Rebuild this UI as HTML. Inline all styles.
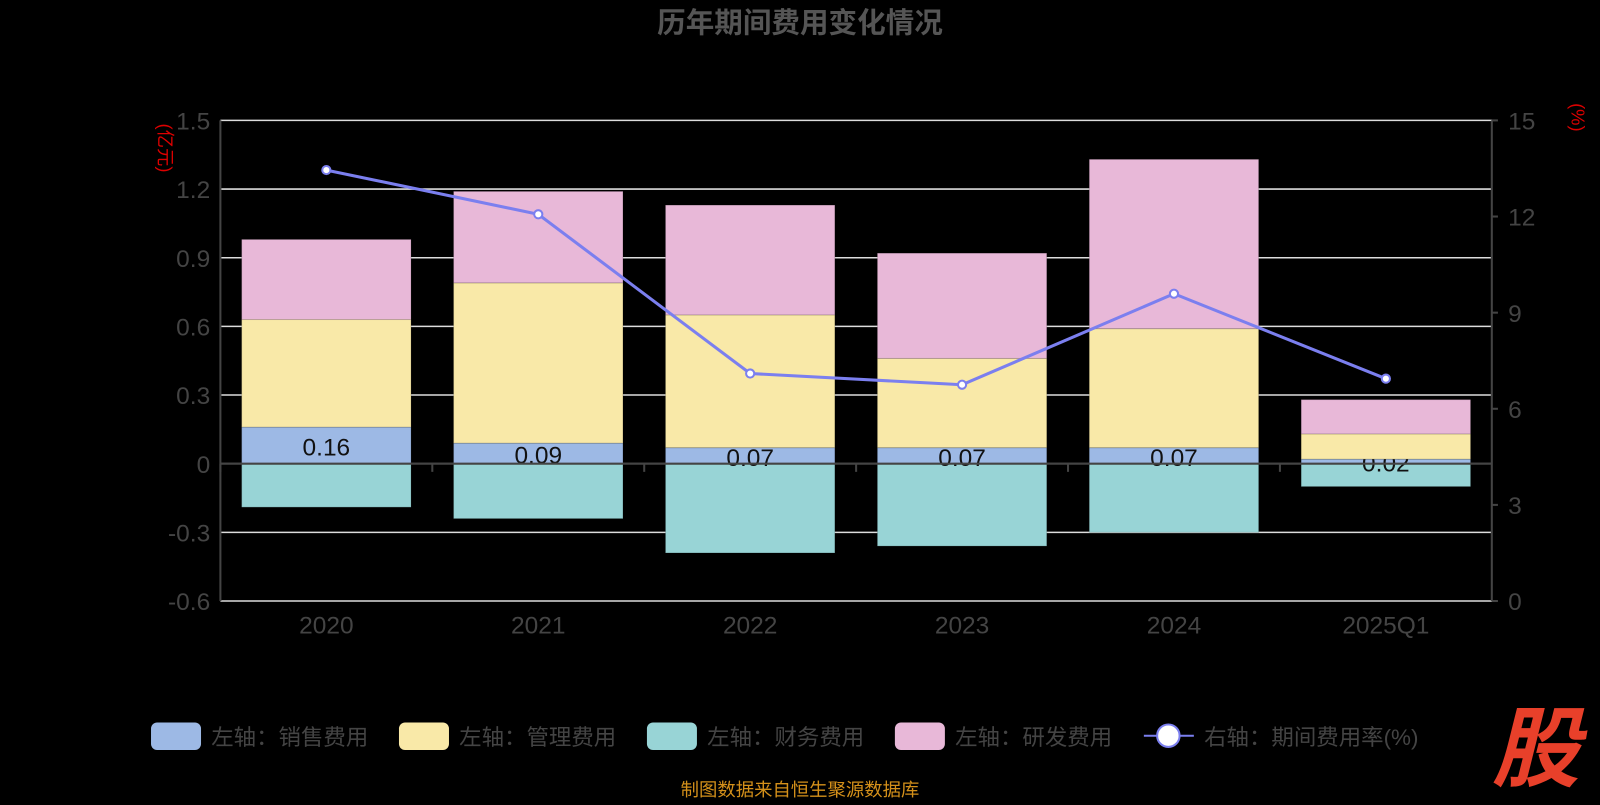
<!DOCTYPE html>
<html><head><meta charset="utf-8"><style>
body{margin:0;background:#000;width:1600px;height:800px;overflow:hidden}
text{font-family:"Liberation Sans","Noto Sans CJK SC",sans-serif}
</style></head><body>
<svg width="1600" height="800">
<g transform="scale(1.0204)">
<text x="784" y="32" text-anchor="middle" font-size="28" font-weight="bold" fill="#555">历年期间费用变化情况</text>
<text transform="translate(156,145) rotate(90)" text-anchor="middle" font-size="18" fill="#d00">(亿元)</text>
<text transform="translate(1540,115) rotate(90)" text-anchor="middle" font-size="18" fill="#d00">(%)</text>
<g id="grid"></g><g id="bars"></g><g id="axes"></g><g id="line"></g>
<g font-size="22" fill="#444">
<rect x="148" y="708" width="49" height="27" rx="6" fill="#9db9e5"/><text x="207" y="730">左轴：销售费用</text>
<rect x="391" y="708" width="49" height="27" rx="6" fill="#f9e9a8"/><text x="450" y="730">左轴：管理费用</text>
<rect x="634" y="708" width="49" height="27" rx="6" fill="#98d4d6"/><text x="693" y="730">左轴：财务费用</text>
<rect x="877" y="708" width="49" height="27" rx="6" fill="#e8b8d8"/><text x="936" y="730">左轴：研发费用</text>
<line x1="1121" y1="721" x2="1170" y2="721" stroke="#7b7fef" stroke-width="2"/><circle cx="1145" cy="721" r="11" fill="#fff" stroke="#7b7fef" stroke-width="2"/><text x="1180" y="730">右轴：期间费用率(%)</text>
</g>
<text x="784" y="780" text-anchor="middle" font-size="18" fill="#d4901a">制图数据来自恒生聚源数据库</text>
<text x="1505" y="764" text-anchor="middle" font-size="86" font-weight="bold" font-style="italic" fill="#e8402a">股</text>
</g>
</svg>
<script>
const categories=["2020","2021","2022","2023","2024","2025Q1"];
const sales=[0.16,0.09,0.07,0.07,0.07,0.02];
const mgmt=[0.47,0.70,0.58,0.39,0.52,0.11];
const rd=[0.35,0.40,0.48,0.46,0.74,0.15];
const finance=[-0.19,-0.24,-0.39,-0.36,-0.30,-0.10];
const rate=[13.45,12.07,7.1,6.75,9.59,6.94];
const leftTicks=[-0.6,-0.3,0,0.3,0.6,0.9,1.2,1.5];
const rightTicks=[0,3,6,9,12,15];
const NS="http://www.w3.org/2000/svg";
const X0=216,X1=1462,YT=118,YB=589;
const yL=v=>YB-(v+0.6)/2.1*(YB-YT);
const yR=v=>YB-v/15*(YB-YT);
const band=(X1-X0)/categories.length;
const xC=i=>X0+band*(i+0.5);
const bw=166;
function mk(p,t,a){const e=document.createElementNS(NS,t);for(const k in a)e.setAttribute(k,a[k]);document.getElementById(p).appendChild(e);return e;}
leftTicks.forEach(v=>{const l=mk("grid","line",{x1:X0,x2:X1,y1:yL(v),y2:yL(v),stroke:"#ddd","stroke-width":1.5});


const t=mk("axes","text",{x:X0-10,y:yL(v)+9,"text-anchor":"end","font-size":24,fill:"#444"});t.textContent=(v===0?"0":String(v));

});
rightTicks.forEach(v=>{const t=mk("axes","text",{x:X1+16,y:yR(v)+9,"font-size":24,fill:"#444"});t.textContent=v;


mk("axes","line",{x1:X1,x2:X1+6,y1:yR(v),y2:yR(v),stroke:"#444","stroke-width":2});});
let a=mk("axes","line",{x1:X0,x2:X0,y1:YT,y2:YB,stroke:"#444","stroke-width":2});


a=mk("axes","line",{x1:X1,x2:X1,y1:YT,y2:YB,stroke:"#444","stroke-width":2});


a=mk("axes","line",{x1:X0,x2:X1,y1:yL(0),y2:yL(0),stroke:"#444","stroke-width":2});


categories.forEach((c,i)=>{mk("axes","line",{x1:X0+band*i,x2:X0+band*i,y1:yL(0),y2:yL(0)+8,stroke:"#444","stroke-width":2});
const t=mk("axes","text",{x:xC(i),y:621,"text-anchor":"middle","font-size":24,fill:"#444"});t.textContent=c;

});
function bar(i,v0,v1,fill,name){const r=mk("bars","rect",{x:xC(i)-bw/2,y:Math.min(yL(v0),yL(v1)),width:bw,height:Math.abs(yL(v1)-yL(v0)),fill:fill,stroke:"rgba(0,0,0,0.15)","stroke-width":1});

}
categories.forEach((c,i)=>{
bar(i,0,finance[i],"#98d4d6","bar-finance-"+c);
bar(i,0,sales[i],"#9db9e5","bar-sales-"+c);
const t=mk("bars","text",{x:xC(i),y:yL(sales[i]/2)+10,"text-anchor":"middle","font-size":24,fill:"#111"});t.textContent=sales[i].toFixed(2);


});
categories.forEach((c,i)=>{
bar(i,sales[i],sales[i]+mgmt[i],"#f9e9a8","bar-mgmt-"+c);
bar(i,sales[i]+mgmt[i],sales[i]+mgmt[i]+rd[i],"#e8b8d8","bar-rd-"+c);
});
const pl=mk("line","polyline",{points:rate.map((v,i)=>xC(i)+","+yR(v)).join(" "),fill:"none",stroke:"#7b7fef","stroke-width":3});


rate.forEach((v,i)=>{const p=mk("line","circle",{cx:xC(i),cy:yR(v),r:4,fill:"#fff",stroke:"#7b7fef","stroke-width":2});

});
</script>
</body></html>
